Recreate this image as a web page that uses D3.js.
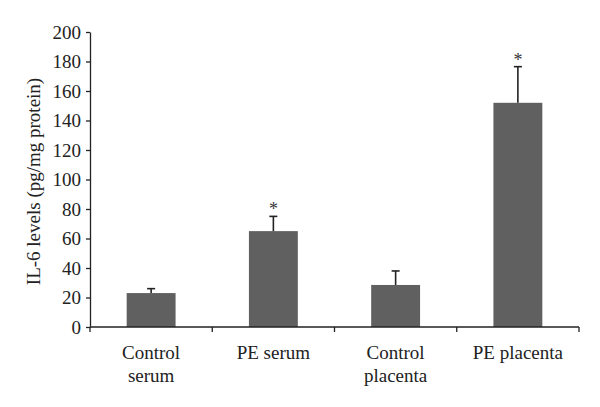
<!DOCTYPE html>
<html>
<head>
<meta charset="utf-8">
<script src="https://cdn.jsdelivr.net/npm/d3@7"></script>
<style>
  body { margin: 0; background: #fff; }
  svg { display: block; }
  svg text { font-family: "Liberation Serif", "DejaVu Serif", serif; }
</style>
</head>
<body>
<svg id="chart"></svg>
<script>
// chart data
const categories = ["Control serum", "PE serum", "Control placenta", "PE placenta"];
const labelLines = [["Control", "serum"], ["PE serum"], ["Control", "placenta"], ["PE placenta"]];
const means = [23, 65, 28.5, 152];
const errors = [3, 10, 9.5, 24.5];
const significant = [false, true, false, true];
const yTicks = [0, 20, 40, 60, 80, 100, 120, 140, 160, 180, 200];

const width = 600, height = 407;
const svg = d3.select("#chart").attr("width", width).attr("height", height);

// plot area
const plotLeft = 90, plotRight = 579, plotTop = 32, plotBottom = 327;
const fontSize = "19px";

const x = d3.scaleBand()
    .domain(categories)
    .range([plotLeft, plotRight])
    .paddingInner(0.6)
    .paddingOuter(0.3);

const y = d3.scaleLinear()
    .domain([0, 200])
    .range([plotBottom, plotTop]);

// Y axis
const yAxis = d3.axisLeft(y).tickValues(yTicks).tickSize(4).tickSizeOuter(0).tickPadding(5);
const yg = svg.append("g")
    .attr("transform", `translate(${plotLeft},0)`)
    .call(yAxis);
yg.selectAll("text").style("font-size", fontSize).attr("fill", "#222");
yg.selectAll("line, path").attr("stroke", "#222").attr("stroke-width", 1.3);

// bars
svg.selectAll("rect.bar")
    .data(categories)
    .enter().append("rect")
    .attr("class", "bar")
    .attr("x", d => x(d))
    .attr("y", (d, i) => y(means[i]))
    .attr("width", x.bandwidth())
    .attr("height", (d, i) => y(0) - y(means[i]))
    .attr("fill", "#606060");

// error bars (upper only)
const eg = svg.append("g").attr("stroke", "#222").attr("stroke-width", 1.6);
categories.forEach((c, i) => {
    const cx = x(c) + x.bandwidth() / 2;
    eg.append("line")
        .attr("x1", cx).attr("x2", cx)
        .attr("y1", y(means[i])).attr("y2", y(means[i] + errors[i]));
    eg.append("line")
        .attr("x1", cx - 4).attr("x2", cx + 4)
        .attr("y1", y(means[i] + errors[i])).attr("y2", y(means[i] + errors[i]));
    if (significant[i]) {
        svg.append("text")
            .attr("x", cx)
            .attr("y", y(means[i] + errors[i]) - 1)
            .attr("text-anchor", "middle")
            .style("font-size", "18px")
            .attr("fill", "#333")
            .text("*");
    }
});

// X axis line and boundary ticks
svg.append("line")
    .attr("x1", plotLeft).attr("x2", plotRight)
    .attr("y1", plotBottom).attr("y2", plotBottom)
    .attr("stroke", "#222").attr("stroke-width", 1.3);
d3.range(categories.length + 1).forEach(i => {
    const tx = plotLeft + i * x.step();
    svg.append("line")
        .attr("x1", tx).attr("x2", tx)
        .attr("y1", plotBottom).attr("y2", plotBottom + 5)
        .attr("stroke", "#222").attr("stroke-width", 1.3);
});

// category labels
categories.forEach((c, i) => {
    const t = svg.append("text")
        .attr("text-anchor", "middle")
        .style("font-size", fontSize)
        .attr("fill", "#222");
    labelLines[i].forEach((line, j) => {
        t.append("tspan")
            .attr("x", x(c) + x.bandwidth() / 2)
            .attr("y", 359 + j * 23)
            .text(line);
    });
});

// Y axis title
svg.append("text")
    .attr("transform", `translate(40,${(plotTop + plotBottom) / 2 + 2}) rotate(-90)`)
    .attr("text-anchor", "middle")
    .style("font-size", fontSize)
    .attr("fill", "#222")
    .text("IL-6 levels (pg/mg protein)");
</script>
</body>
</html>
